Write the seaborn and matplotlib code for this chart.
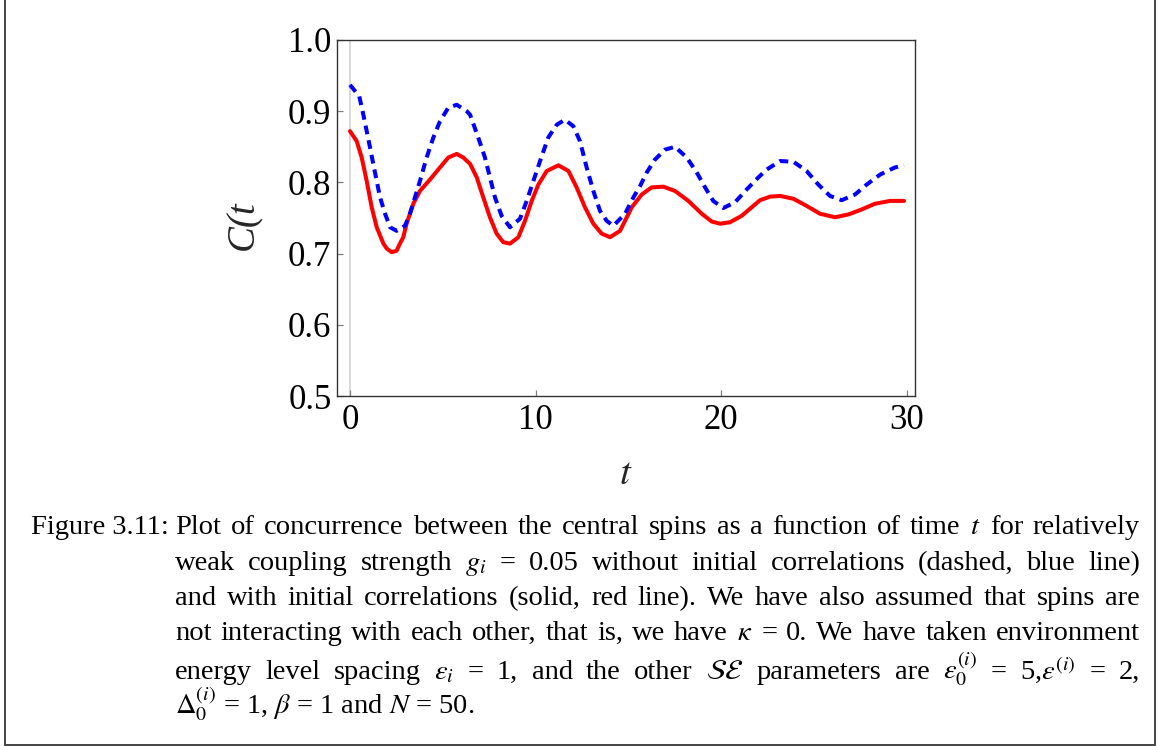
import numpy as np
import pandas as pd
import matplotlib
matplotlib.use("Agg")
import matplotlib.pyplot as plt
import seaborn as sns
from matplotlib.lines import Line2D

# ---------------- data ----------------
t_red = [0, 0.36, 0.63, 0.9, 1.17, 1.44, 1.8, 1.98, 2.25, 2.51, 2.69, 2.87,
         3.05, 3.41, 3.77, 4.31, 4.85, 5.3, 5.75, 6.1, 6.47, 6.83, 7.18, 7.54,
         7.9, 8.26, 8.62, 9.07, 9.43, 9.79, 10.15, 10.6, 11.23, 11.77, 12.21,
         12.66, 13.11, 13.56, 14.01, 14.55, 15.18, 15.72, 16.25, 16.88, 17.51,
         18.23, 18.95, 19.49, 19.94, 20.47, 21.1, 21.73, 22.09, 22.63, 23.17,
         23.89, 24.6, 25.32, 26.13, 26.85, 27.57, 28.28, 29.09, 29.85]
c_red = [0.872, 0.858, 0.835, 0.802, 0.765, 0.737, 0.714, 0.707, 0.702, 0.704,
         0.714, 0.723, 0.742, 0.770, 0.788, 0.804, 0.821, 0.835, 0.840, 0.835,
         0.826, 0.807, 0.779, 0.751, 0.728, 0.716, 0.714, 0.723, 0.746, 0.774,
         0.797, 0.816, 0.824, 0.816, 0.793, 0.765, 0.742, 0.728, 0.723, 0.732,
         0.765, 0.783, 0.793, 0.794, 0.788, 0.774, 0.756, 0.745, 0.742, 0.744,
         0.753, 0.767, 0.775, 0.780, 0.781, 0.777, 0.767, 0.756, 0.751, 0.755,
         0.762, 0.770, 0.774, 0.774]

t_blue = [0, 0.5, 0.72, 0.9, 1.08, 1.26, 1.44, 1.62, 1.89, 2.16, 2.51, 2.96,
          3.23, 3.5, 3.77, 4.13, 4.49, 4.85, 5.3, 5.75, 6.29, 6.47, 6.91, 7.27,
          7.54, 7.81, 8.17, 8.62, 9.16, 9.52, 9.88, 10.24, 10.68, 11.14, 11.58,
          12.03, 12.39, 12.75, 13.11, 13.47, 13.83, 14.19, 14.82, 15.27, 15.63,
          15.99, 16.43, 16.97, 17.51, 18.14, 18.68, 19.13, 19.57, 20.11, 20.74,
          21.37, 22.0, 22.45, 23.17, 23.89, 24.6, 25.23, 25.86, 26.49, 27.21,
          27.84, 28.56, 29.36, 29.85]
c_blue = [0.937, 0.921, 0.895, 0.872, 0.849, 0.825, 0.802, 0.779, 0.756, 0.737,
          0.732, 0.739, 0.756, 0.779, 0.802, 0.835, 0.863, 0.886, 0.905, 0.909,
          0.900, 0.895, 0.863, 0.835, 0.807, 0.779, 0.753, 0.737, 0.749, 0.774,
          0.802, 0.830, 0.863, 0.881, 0.888, 0.879, 0.858, 0.821, 0.788, 0.760,
          0.746, 0.739, 0.756, 0.779, 0.795, 0.814, 0.832, 0.846, 0.850, 0.835,
          0.814, 0.793, 0.774, 0.764, 0.772, 0.790, 0.807, 0.818, 0.830, 0.829,
          0.816, 0.797, 0.781, 0.775, 0.783, 0.797, 0.811, 0.821, 0.824]

x_ticks = [0, 10, 20, 30]
x_tick_labels = ["0", "10", "20", "30"]
y_ticks = [0.5, 0.6, 0.7, 0.8, 0.9, 1.0]
y_tick_labels = ["0.5", "0.6", "0.7", "0.8", "0.9", "1.0"]
x_label = "$t$"
y_label = "C(t"

caption_label = "Figure 3.11:"
caption_lines = [
    "Plot of concurrence between the central spins as a function of time $t$ for relatively",
    "weak coupling strength $g_i$ = 0.05 without initial correlations (dashed, blue line)",
    "and with initial correlations (solid, red line). We have also assumed that spins are",
    r"not interacting with each other, that is, we have $\kappa$ = 0. We have taken environment",
    r"energy level spacing $\varepsilon_i$ = 1, and the other $\mathcal{SE}$ parameters are "
    r"$\varepsilon_0^{(i)}$ = 5,$\varepsilon^{(i)}$ = 2,",
]
caption_last = r"$\Delta_0^{(i)}$ = 1, $\beta$ = 1 and $N$ = 50."

# ---------------- style ----------------
sns.set_style("white")
plt.rcParams["font.family"] = ["Liberation Serif", "DejaVu Serif"]
plt.rcParams["mathtext.fontset"] = "stix"

W, H = 1158, 747
fig = plt.figure(figsize=(W / 100, H / 100), dpi=100)
fig.patch.set_facecolor("white")

# axes placement in pixels
L, R, T, B = 337, 915, 40, 396
ax = fig.add_axes([L / W, 1 - B / H, (R - L) / W, (B - T) / H])
ax.set_facecolor("white")

ax.axvline(0, color="#d6d6d6", lw=1.3, zorder=0)

df_red = pd.DataFrame({"t": t_red, "C": c_red})
df_blue = pd.DataFrame({"t": t_blue, "C": c_blue})
sns.lineplot(data=df_red, x="t", y="C", ax=ax, color="#ff0000", lw=2.9,
             errorbar=None, sort=False, estimator=None,
             solid_joinstyle="round", solid_capstyle="round")
sns.lineplot(data=df_blue, x="t", y="C", ax=ax, color="#0000ff", lw=2.9,
             linestyle=(0, (2.2, 1.5)), errorbar=None, sort=False,
             estimator=None, dash_joinstyle="round", dash_capstyle="butt")

ax.set_xlim(-0.70, 30.44)
ax.set_ylim(0.5, 1.0)
ax.set_xticks(x_ticks)
ax.set_xticklabels(x_tick_labels)
ax.set_yticks(y_ticks)
ax.set_yticklabels(y_tick_labels)
ax.tick_params(direction="in", length=4.5, width=0.9, color="#808080",
               labelsize=25, labelcolor="black", pad=4,
               left=True, bottom=True, top=False, right=False)
ax.tick_params(axis="x", pad=6)
for s in ax.spines.values():
    s.set_color("#333333")
    s.set_linewidth(1.0)

ax.set_xlabel(x_label, fontsize=28)
ax.set_ylabel(y_label, fontsize=28, fontstyle="italic")
ax.xaxis.set_label_coords(0.5, -0.168)
ax.yaxis.set_label_coords(-0.13, 0.48)

# ---------------- frame around the figure ----------------
frame_kw = dict(color="#444444", lw=1.4, transform=fig.transFigure)
fig.add_artist(Line2D([4.5 / W, 4.5 / W], [1, 1 - 745 / H], **frame_kw))
fig.add_artist(Line2D([4.5 / W, 1154.5 / W], [1 - 745 / H, 1 - 745 / H], **frame_kw))
fig.add_artist(Line2D([1154.5 / W, 1154.5 / W], [1, 1 - 745 / H], **frame_kw))

# ---------------- caption (justified, word by word) ----------------
x_label_px = 31
x_indent = 175
x_right = 1140
baselines = [534, 570, 605, 640, 679]
baseline_last = 714

fig.canvas.draw()
renderer = fig.canvas.get_renderer()


def tokens_of(line):
    toks, buf = [], ""
    for w in line.split(" "):
        buf = w if buf == "" else buf + " " + w
        if buf.count("$") % 2 == 0:
            toks.append(buf)
            buf = ""
    return toks


def width_of(s, fs):
    t = fig.text(0, 0, s, fontsize=fs)
    w = t.get_window_extent(renderer).width
    t.remove()
    return w


# choose caption size so that the longest line nearly fills the measure
fs_cap = 17.5
for cand in np.arange(17.0, 23.01, 0.25):
    widest = max(width_of(ln, cand) for ln in caption_lines)
    if widest <= (x_right - x_indent) * 0.985:
        fs_cap = cand


def put(s, x_px, y_px):
    return fig.text(x_px / W, 1 - y_px / H, s, fontsize=fs_cap, ha="left",
                    va="baseline", color="black")


put(caption_label, x_label_px, baselines[0])

for line, yb in zip(caption_lines, baselines):
    toks = tokens_of(line)
    texts = [put(tk, 0, yb) for tk in toks]
    widths = [t.get_window_extent(renderer).width for t in texts]
    gap = (x_right - x_indent - sum(widths)) / max(len(toks) - 1, 1)
    x = x_indent
    for t, w in zip(texts, widths):
        t.set_x(x / W)
        x += w + gap

put(caption_last, x_indent, baseline_last)

fig.savefig("out.png", dpi=100, facecolor="white")
